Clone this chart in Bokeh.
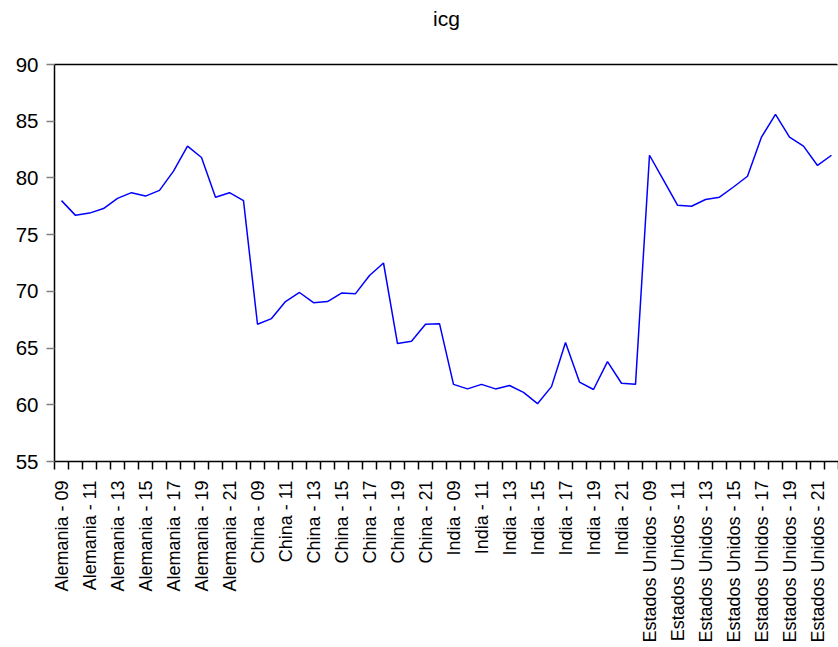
from bokeh.plotting import figure
from bokeh.models import Range1d, FixedTicker, LinearAxis, Title
from bokeh.embed import file_html
from bokeh.resources import INLINE
import math

countries = ["Alemania", "China", "India", "Estados Unidos"]
years = ["09", "10", "11", "12", "13", "14", "15", "16", "17", "18", "19", "20", "21", "22"]

alemania = [78.0, 76.7, 76.9, 77.3, 78.2, 78.7, 78.4, 78.9, 80.6, 82.8, 81.8, 78.3, 78.7, 78.0]
china = [67.1, 67.6, 69.1, 69.9, 69.0, 69.1, 69.85, 69.8, 71.4, 72.5, 65.4, 65.6, 67.1, 67.15]
india = [61.8, 61.4, 61.8, 61.4, 61.7, 61.1, 60.1, 61.6, 65.5, 62.0, 61.35, 63.8, 61.9, 61.8]
eeuu = [82.0, 79.8, 77.6, 77.5, 78.1, 78.3, 79.2, 80.15, 83.6, 85.6, 83.6, 82.8, 81.1, 82.0]

y_ticks = [55, 60, 65, 70, 75, 80, 85, 90]
title_text = "icg"

values = alemania + china + india + eeuu
labels = [f"{c} - {y}" for c in countries for y in years]
n = len(values)
xs = [i + 0.5 for i in range(n)]

FONT = "Liberation Sans"

p = figure(
    width=838, height=645,
    min_border_left=54, min_border_right=0, min_border_top=64, min_border_bottom=182,
    x_range=Range1d(0, n), y_range=Range1d(55, 90),
    output_backend="svg", toolbar_location=None,
    x_axis_type=None, y_axis_type=None,
)
p.outline_line_color = None
p.grid.visible = False
p.background_fill_color = "white"
p.border_fill_color = "white"

# left axis
ya = LinearAxis(ticker=FixedTicker(ticks=y_ticks, minor_ticks=[]))
ya.axis_line_color = "black"
ya.axis_line_width = 1.5
ya.major_tick_out = 8
ya.major_tick_in = 0
ya.major_tick_line_color = "#808080"
ya.major_tick_line_width = 1.5
ya.minor_tick_out = 0
ya.major_label_standoff = 8
ya.major_label_text_font = FONT
ya.major_label_text_font_size = "20.5px"
ya.major_label_text_color = "black"
p.add_layout(ya, "left")

# bottom axis
label_pos = xs[::2]
xa = LinearAxis(ticker=FixedTicker(ticks=label_pos, minor_ticks=list(range(n + 1))))
xa.major_label_overrides = {xs[i]: labels[i] for i in range(0, n, 2)}
xa.axis_line_color = "black"
xa.axis_line_width = 1.5
xa.major_tick_out = 0
xa.major_tick_in = 0
xa.minor_tick_out = 8
xa.minor_tick_in = 0
xa.minor_tick_line_color = "black"
xa.minor_tick_line_width = 1.5
xa.major_label_orientation = math.pi / 2
xa.major_label_standoff = 11
xa.major_label_text_font = FONT
xa.major_label_text_font_size = "18px"
xa.major_label_text_color = "black"
p.add_layout(xa, "below")

# top border; one invisible (white) tick at the far right gives the panel
# height so that the title sits near the top of the page
spacer_tick = n - 0.1
ta = LinearAxis(ticker=FixedTicker(ticks=[spacer_tick], minor_ticks=[]))
ta.major_label_overrides = {spacer_tick: ""}
ta.axis_line_color = "black"
ta.axis_line_width = 1.5
ta.major_label_text_font_size = "0px"
ta.major_label_standoff = 0
ta.major_tick_out = 34
ta.major_tick_in = 0
ta.major_tick_line_color = "white"
ta.major_tick_line_width = 1
ta.minor_tick_out = 0
p.add_layout(ta, "above")

t = Title(text=title_text, align="center", text_font=FONT, text_font_size="21px",
          text_font_style="normal", text_color="black", standoff=2)
p.add_layout(t, "above")

p.line(xs, values, line_color="#0000FF", line_width=1.5)

open("out.html", "w").write(file_html(p, INLINE))
